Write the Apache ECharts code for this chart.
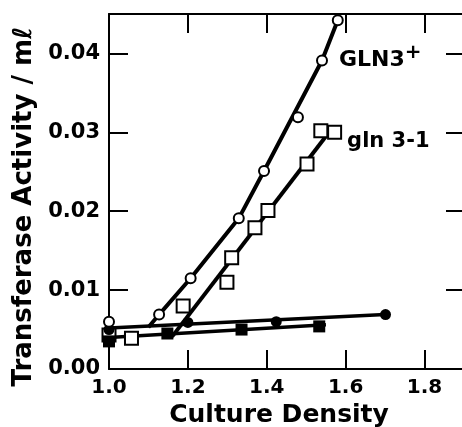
<!DOCTYPE html>
<html>
<head>
<meta charset="utf-8">
<script src="https://cdn.jsdelivr.net/npm/echarts@6/dist/echarts.min.js"></script>
<style>
  html, body { margin: 0; padding: 0; background: #fff; }
  #chart { width: 462px; height: 427px; }
</style>
</head>
<body>
<div id="chart"></div>
<script>
// GLN3+ (open circles) and the drawn curve through them
const glnPlusX = [1.0, 1.127, 1.207, 1.329, 1.393, 1.479, 1.54, 1.58]
const glnPlusY = [0.0060, 0.0069, 0.0115, 0.0191, 0.0251, 0.0319, 0.0391, 0.0442]
const glnPlusLineX = [1.10, 1.127, 1.207, 1.329, 1.393, 1.54, 1.58]
const glnPlusLineY = [0.0053, 0.0069, 0.0115, 0.0191, 0.0251, 0.0391, 0.0442]

// gln 3-1 (open squares) and its line
const glnMinusX = [1.0, 1.057, 1.188, 1.299, 1.311, 1.37, 1.403, 1.502, 1.537, 1.572]
const glnMinusY = [0.0043, 0.0039, 0.0080, 0.0110, 0.0141, 0.0179, 0.0201, 0.0260, 0.0302, 0.0300]
const glnMinusLineX = [1.16, 1.553]
const glnMinusLineY = [0.0041, 0.0297]

// filled circles / filled squares (low baseline)
const filledCircX = [1.0, 1.2, 1.424, 1.701]
const filledCircY = [0.0050, 0.0059, 0.0060, 0.0069]
const filledCircLineX = [1.0, 1.70]
const filledCircLineY = [0.0052, 0.0069]
const filledSqX = [1.0, 1.148, 1.336, 1.533]
const filledSqY = [0.0035, 0.0045, 0.0050, 0.0054]
const filledSqLineX = [1.0, 1.55]
const filledSqLineY = [0.0040, 0.0056]

const xMin = 1.0, xMax = 1.9, xStep = 0.2
const yMin = 0, yMax = 0.045, yStep = 0.01

const ink = '#000'
const font = 'DejaVu Sans'

const pairs = (xs, ys) => xs.map((x, i) => [x, ys[i]])

function lineSeries(xs, ys, width) {
  return {
    type: 'line',
    data: pairs(xs, ys),
    symbol: 'none',
    lineStyle: { color: ink, width: width },
    z: 2,
    silent: true
  }
}

const tickStyle = { color: ink, width: 2 }
const frameLine = { onZero: false, lineStyle: { color: ink, width: 2 } }

const chart = echarts.init(document.getElementById('chart'), null, { renderer: 'canvas' })

const glnPlusData = pairs(glnPlusX, glnPlusY).map((p, i) => {
  if (i !== 6) return p
  return {
    value: p,
    label: {
      show: true,
      position: 'right',
      distance: 11,
      formatter: 'GLN3{sup|+}',
      color: ink,
      fontFamily: font,
      fontWeight: 'bold',
      fontSize: 22,
      rich: { sup: { fontSize: 20, fontFamily: font, fontWeight: 'bold', color: ink, padding: [0, 0, 16, 0] } }
    }
  }
})

const glnMinusData = pairs(glnMinusX, glnMinusY).map((p, i) => {
  if (i !== glnMinusX.length - 1) return p
  return {
    value: p,
    label: {
      show: true,
      position: 'right',
      distance: 5,
      offset: [0, 9],
      formatter: 'gln 3-1',
      color: ink,
      fontFamily: font,
      fontWeight: 'bold',
      fontSize: 21
    }
  }
})

chart.setOption({
  animation: false,
  backgroundColor: '#fff',
  grid: { left: 109, right: -2, top: 14, bottom: 58, outerBoundsMode: 'none' },
  xAxis: [{
    type: 'value',
    min: xMin, max: xMax, interval: xStep,
    position: 'bottom',
    name: 'Culture Density',
    nameLocation: 'middle',
    nameGap: 31,
    nameTextStyle: { color: ink, fontFamily: font, fontSize: 25, fontWeight: 'bold', padding: [0, 15, 0, 0] },
    axisLine: frameLine,
    axisTick: { inside: true, length: 19, lineStyle: tickStyle },
    axisLabel: {
      color: ink, fontFamily: font, fontSize: 20, fontWeight: 'bold', margin: 9,
      formatter: v => Math.abs(v / xStep - Math.round(v / xStep)) < 1e-6 ? v.toFixed(1) : ''
    },
    splitLine: { show: false }
  }, {
    type: 'value',
    min: xMin, max: xMax, interval: xStep,
    position: 'top',
    axisLine: frameLine,
    axisTick: { inside: true, length: 19, lineStyle: tickStyle },
    axisLabel: { show: false },
    splitLine: { show: false }
  }],
  yAxis: [{
    type: 'value',
    min: yMin, max: yMax, interval: yStep,
    position: 'left',
    name: 'Transferase Activity / mℓ',
    nameLocation: 'middle',
    nameGap: 68,
    nameRotate: 90,
    nameTextStyle: { color: ink, fontFamily: font, fontSize: 26, fontWeight: 'bold', padding: [0, 30, 0, 0] },
    axisLine: frameLine,
    axisTick: { inside: true, length: 19, lineStyle: tickStyle },
    axisLabel: {
      color: ink, fontFamily: font, fontSize: 21, fontWeight: 'bold', margin: 9,
      formatter: v => v > yMax - 1e-6 ? '' : v.toFixed(2)
    },
    splitLine: { show: false }
  }, {
    type: 'value',
    min: yMin, max: yMax, interval: yStep,
    position: 'right',
    axisLine: frameLine,
    axisTick: { inside: true, length: 18, lineStyle: tickStyle },
    axisLabel: { show: false },
    splitLine: { show: false }
  }],
  series: [
    lineSeries(filledCircLineX, filledCircLineY, 3.5),
    lineSeries(filledSqLineX, filledSqLineY, 3.5),
    lineSeries(glnPlusLineX, glnPlusLineY, 4),
    lineSeries(glnMinusLineX, glnMinusLineY, 4),
    {
      name: 'gln 3-1',
      type: 'scatter',
      data: glnMinusData,
      symbol: 'rect',
      symbolSize: 13,
      itemStyle: { color: '#fff', borderColor: ink, borderWidth: 2, opacity: 1 },
      z: 3
    },
    {
      name: 'filled squares',
      type: 'scatter',
      data: pairs(filledSqX, filledSqY),
      symbol: 'rect',
      symbolSize: 12,
      itemStyle: { color: ink, opacity: 1 },
      z: 4
    },
    {
      name: 'filled circles',
      type: 'scatter',
      data: pairs(filledCircX, filledCircY),
      symbol: 'circle',
      symbolSize: 11,
      itemStyle: { color: ink, opacity: 1 },
      z: 4
    },
    {
      name: 'GLN3+',
      type: 'scatter',
      data: glnPlusData,
      symbol: 'circle',
      symbolSize: 10,
      itemStyle: { color: '#fff', borderColor: ink, borderWidth: 2, opacity: 1 },
      z: 5
    }
  ]
})
</script>
</body>
</html>
